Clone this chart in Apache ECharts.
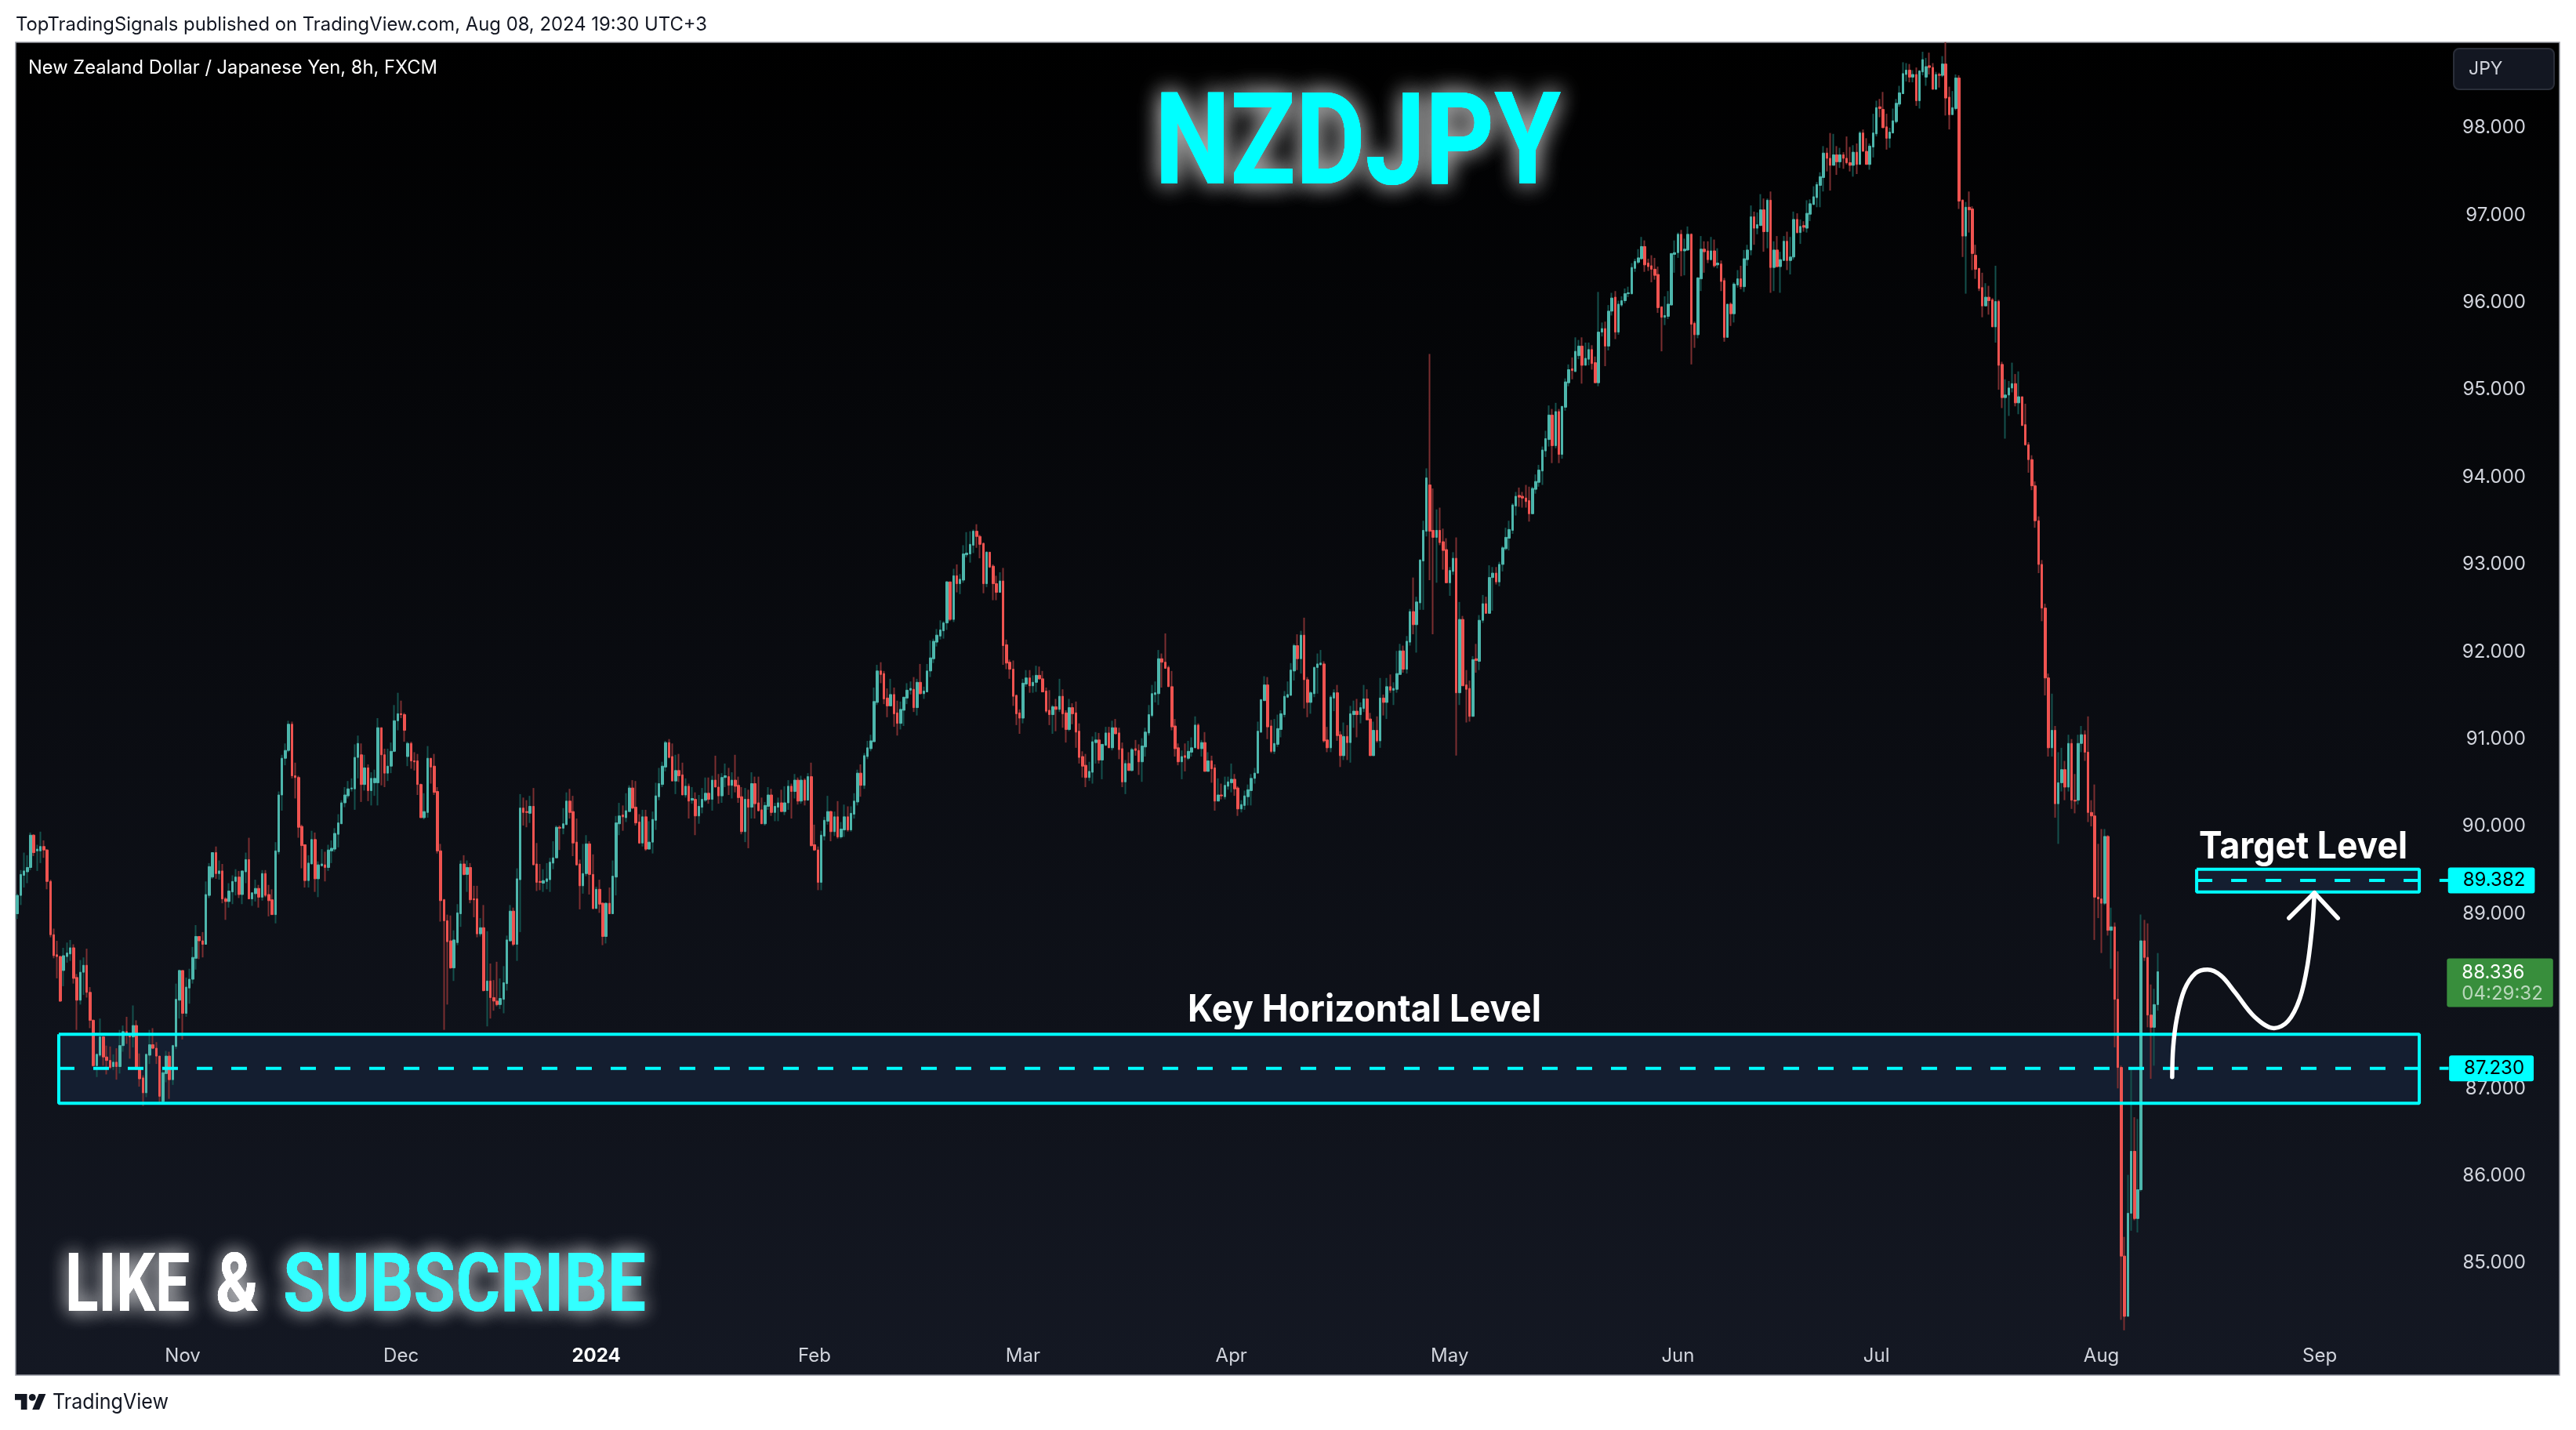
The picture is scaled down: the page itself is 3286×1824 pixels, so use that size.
<!DOCTYPE html>
<html><head><meta charset="utf-8">
<style>html,body{margin:0;padding:0;background:#fff}#c{width:3286px;height:1824px}</style>
<script src="https://cdn.jsdelivr.net/npm/echarts@6/dist/echarts.min.js"></script>
</head><body><div id="c"></div>
<script>
// rows: [open, close, low, high]
const candlesOct = [
[89.0,89.21,88.94,89.23],[89.21,89.45,89.1,89.5],[89.44,89.49,89.3,89.7],[89.48,89.53,89.35,89.67],[89.53,89.9,89.5,89.93],[89.9,89.7,89.66,89.91],[89.72,89.74,89.49,89.79],[89.72,89.77,89.58,89.94],[89.77,89.73,89.64,89.84],[89.73,89.37,89.28,89.74],
[89.37,88.76,88.73,89.39],[88.76,88.52,88.49,88.83],[88.53,88.51,88.26,88.69],[88.51,88.0,87.99,88.52],[88.35,88.52,88.17,88.61],[88.51,88.55,88.44,88.67],[88.54,88.61,88.46,88.7],[88.61,88.26,88.2,88.65],[88.27,88.01,87.67,88.31],[88.01,88.33,87.96,88.47],
[88.33,88.41,88.07,88.5],[88.41,88.1,88.04,88.6],[88.1,87.78,87.69,88.16],[87.78,87.26,87.25,87.79],[87.26,87.39,87.13,87.4],[87.38,87.59,87.36,87.8],[87.59,87.36,87.26,87.6],[87.36,87.32,87.16,87.49],[87.32,87.24,87.22,87.48],[87.25,87.3,87.21,87.39],
[87.3,87.25,87.1,87.46],[87.25,87.49,87.17,87.67],[87.49,87.65,87.42,87.72],[87.65,87.61,87.51,87.82],[87.61,87.59,87.34,87.62],[87.59,87.72,87.47,87.95],[87.72,87.24,87.21,87.78],[87.24,87.11,87.02,87.4],[87.12,86.95,86.8,87.15],[86.95,87.39,86.9,87.4],
[87.38,87.5,87.28,87.67],[87.5,87.46,87.45,87.69],[87.46,87.37,87.28,87.53],[87.37,86.91,86.84,87.37],[86.85,87.18,86.83,87.25],[87.17,87.37,87.07,87.43],[87.37,87.1,86.88,87.42],[87.1,87.49,87.04,87.5],[87.48,88.02,87.45,88.2],[88.01,88.35,87.8,88.36]];
const candlesNov = [
[88.35,87.86,87.56,88.35],[87.86,88.16,87.82,88.27],[88.15,88.25,87.97,88.37],[88.25,88.5,88.2,88.62],[88.49,88.74,88.36,88.87],[88.74,88.69,88.48,88.74],[88.69,88.65,88.5,88.79],[88.65,89.22,88.65,89.37],[89.21,89.54,89.18,89.58],[89.42,89.7,89.4,89.7],
[89.7,89.46,89.4,89.77],[89.46,89.49,89.39,89.61],[89.49,89.17,89.12,89.57],[89.17,89.14,88.93,89.19],[89.14,89.26,89.07,89.35],[89.25,89.37,89.11,89.44],[89.37,89.42,89.21,89.51],[89.42,89.22,89.18,89.49],[89.22,89.49,89.11,89.49],[89.48,89.62,89.35,89.7],
[89.62,89.17,89.17,89.87],[89.17,89.24,89.09,89.24],[89.23,89.29,89.14,89.39],[89.29,89.19,89.07,89.33],[89.19,89.46,89.15,89.5],[89.46,89.21,89.19,89.5],[89.22,89.15,88.97,89.33],[89.16,88.99,88.99,89.28],[88.99,89.72,88.89,89.82],[89.71,90.36,89.68,90.4],
[90.36,90.78,90.18,90.82],[90.78,90.87,90.7,90.95],[90.87,91.17,90.85,91.21],[91.17,90.58,90.55,91.2],[90.58,90.56,90.32,90.73],[90.56,89.99,89.87,90.58],[90.0,89.78,89.52,90.02],[89.79,89.38,89.3,89.79],[89.38,89.58,89.3,89.67],[89.57,89.85,89.57,89.95],
[89.85,89.4,89.25,89.93],[89.4,89.56,89.19,89.6],[89.55,89.57,89.54,89.74],[89.56,89.53,89.37,89.71],[89.53,89.73,89.49,89.79],[89.72,89.75,89.58,89.84],[89.74,89.92,89.71,89.98],[89.91,90.04,89.76,90.14],[90.03,90.27,90.03,90.3],[90.27,90.36,90.22,90.45],
[90.35,90.43,90.32,90.52],[90.43,90.44,90.4,90.55],[90.43,90.79,90.19,90.94],[90.79,90.95,90.55,91.04],[90.82,90.48,90.28,90.95],[90.48,90.67,90.41,90.82],[90.67,90.41,90.29,90.71],[90.41,90.55,90.24,90.62],[90.5,90.55,90.35,90.65],[90.5,91.13,90.24,91.24],
[91.13,90.82,90.47,91.13],[90.82,90.61,90.45,90.89],[90.61,90.69,90.52,90.89],[90.69,90.86,90.61,90.96],[90.86,91.21,90.85,91.39],[91.21,91.29,91.1,91.53]];
const candlesDec = [
[91.29,91.28,91.24,91.44],[91.28,91.1,90.97,91.3],[90.8,90.95,90.69,90.97],[90.95,90.75,90.66,90.97],[90.75,90.74,90.64,90.85],[90.75,90.48,90.36,90.83],[90.48,90.1,90.1,90.49],[90.1,90.17,90.08,90.38],[90.16,90.78,90.1,90.92],[90.78,90.68,90.49,90.78],
[90.69,90.39,90.36,90.83],[90.4,89.72,89.69,90.45],[89.72,89.15,88.91,89.8],[89.16,88.92,87.67,89.17],[88.92,88.68,87.96,88.99],[88.69,88.38,88.37,88.98],[88.38,88.7,88.23,88.81],[88.67,89.01,88.64,89.11],[89.0,89.57,88.85,89.61],[89.57,89.45,89.44,89.67],
[89.45,89.53,89.25,89.61],[89.53,89.16,89.12,89.58],[89.17,89.16,88.96,89.32],[89.17,88.77,88.73,89.32],[88.77,88.84,88.74,88.95],[88.84,88.12,88.11,89.1],[88.12,88.23,87.71,88.8],[88.23,88.04,87.8,88.43],[88.04,88.0,87.89,88.24],[88.0,87.96,87.94,88.45],
[87.96,88.03,87.91,88.26],[88.02,88.21,87.86,88.4],[88.2,88.7,88.12,88.75],[88.69,89.03,88.68,89.1],[89.03,88.65,88.63,89.07],[88.65,89.4,88.46,89.52],[89.39,90.21,88.79,90.37],[90.21,90.16,90.01,90.33],[90.17,90.16,89.99,90.3],[90.15,90.23,90.04,90.35],
[90.23,89.56,89.56,90.44],[89.57,89.36,89.26,89.81],[89.37,89.36,89.27,89.57],[89.35,89.38,89.25,89.51],[89.37,89.4,89.28,89.58],[89.39,89.59,89.25,89.64],[89.58,89.64,89.51,89.83],[89.64,89.99,89.64,90.01],[89.99,89.98,89.73,90.01],[89.98,90.03,89.91,90.21],
[90.02,90.29,90.02,90.39],[90.29,90.16,90.09,90.43],[90.17,89.81,89.66,90.35],[89.82,89.56,89.55,90.09],[89.57,89.32,89.05,89.62],[89.32,89.46,89.23,89.8],[89.46,89.8,89.43,89.9],[89.8,89.45,89.22,89.83],[89.45,89.06,89.05,89.68]];
const candlesJan = [
[89.06,89.28,89.06,89.31],[89.28,89.11,89.01,89.39],[89.12,88.74,88.64,89.13],[88.74,89.12,88.66,89.13],[89.12,89.0,89.0,89.3],[89.0,89.43,89.0,89.61],[89.42,90.04,89.21,90.12],[90.03,90.12,89.9,90.27],[90.13,90.11,89.95,90.24],[90.1,90.18,90.05,90.38],
[90.17,90.44,90.17,90.47],[90.44,90.21,90.2,90.53],[90.22,90.04,90.01,90.52],[90.05,89.81,89.8,90.14],[89.81,90.11,89.77,90.19],[90.11,89.74,89.72,90.19],[89.74,89.82,89.74,90.06],[89.82,90.08,89.69,90.17],[90.07,90.35,89.96,90.5],[90.34,90.49,90.3,90.67],
[90.48,90.69,90.45,90.74],[90.68,90.96,90.63,90.98],[90.96,90.79,90.78,91.0],[90.8,90.52,90.52,90.95],[90.52,90.64,90.37,90.82],[90.64,90.58,90.51,90.83],[90.59,90.36,90.36,90.73],[90.36,90.46,90.33,90.55],[90.46,90.29,90.09,90.49],[90.3,90.32,90.26,90.45],
[90.31,90.12,89.9,90.39],[90.12,90.23,90.03,90.36],[90.22,90.31,90.15,90.44],[90.3,90.38,90.28,90.56],[90.38,90.31,90.26,90.56],[90.31,90.53,90.18,90.58],[90.53,90.45,90.45,90.81],[90.45,90.35,90.26,90.6],[90.35,90.56,90.27,90.61],[90.56,90.58,90.45,90.72],
[90.57,90.47,90.36,90.67],[90.47,90.53,90.32,90.62],[90.53,90.46,90.39,90.82],[90.47,90.33,90.27,90.57],[90.34,89.94,89.91,90.45],[89.94,90.31,89.82,90.44],[90.31,90.22,89.75,90.42],[90.22,90.49,90.09,90.62],[90.49,90.26,90.09,90.57],[90.27,90.18,90.17,90.57],
[90.19,90.03,90.03,90.33],[90.03,90.24,90.01,90.28],[90.23,90.36,90.19,90.45],[90.36,90.16,90.12,90.43],[90.16,90.23,90.06,90.27],[90.22,90.27,90.06,90.33],[90.27,90.17,90.17,90.42],[90.17,90.27,90.13,90.46],[90.27,90.46,90.19,90.53],[90.46,90.4,90.09,90.49],
[90.4,90.53,90.32,90.6],[90.53,90.29,90.25,90.56],[90.29,90.53,90.26,90.58],[90.53,90.3,90.24,90.55],[90.3,90.57,90.3,90.61],[90.57,89.78,89.77,90.73]];
const candlesFeb = [
[89.79,89.73,89.72,90.02],[89.73,89.36,89.27,89.77],[89.36,89.9,89.27,89.95],[89.89,90.07,89.84,90.11],[90.06,90.17,90.02,90.35],[90.17,89.94,89.83,90.18],[89.94,90.11,89.89,90.17],[90.11,89.88,89.86,90.29],[89.88,89.97,89.86,90.05],[89.96,90.11,89.88,90.25],
[90.11,89.96,89.94,90.23],[89.96,90.15,89.94,90.23],[90.14,90.29,90.09,90.38],[90.28,90.61,90.24,90.65],[90.61,90.47,90.34,90.71],[90.47,90.81,90.43,90.84],[90.8,90.9,90.77,90.98],[90.89,90.98,90.86,91.05],[90.97,91.43,90.97,91.59],[91.42,91.78,91.39,91.85],
[91.78,91.74,91.64,91.88],[91.75,91.46,91.4,91.78],[91.47,91.38,91.25,91.58],[91.38,91.51,91.38,91.69],[91.51,91.29,91.14,91.59],[91.3,91.18,91.04,91.44],[91.18,91.34,91.11,91.43],[91.33,91.48,91.15,91.48],[91.47,91.56,91.4,91.64],[91.56,91.58,91.51,91.66],
[91.57,91.36,91.31,91.71],[91.36,91.65,91.27,91.69],[91.65,91.52,91.51,91.86],[91.52,91.55,91.46,91.6],[91.54,91.78,91.54,91.86],[91.78,91.93,91.71,92.13],[91.92,92.12,91.87,92.15],[92.11,92.19,92.06,92.26],[92.18,92.25,92.14,92.36],[92.24,92.33,92.15,92.35],
[92.33,92.8,92.25,92.81],[92.8,92.37,92.35,92.8],[92.37,92.87,92.34,92.95],[92.87,92.78,92.68,93.0],[92.78,92.83,92.66,92.89],[92.82,93.12,92.79,93.22],[93.11,93.13,93.08,93.37],[93.12,93.23,93.02,93.38],[93.22,93.38,93.13,93.4],[93.38,93.32,93.19,93.46],
[93.32,93.23,93.07,93.34],[93.24,92.78,92.67,93.25],[92.78,93.14,92.74,93.15],[93.14,92.97,92.96,93.14],[92.98,92.78,92.59,93.0],[92.78,92.68,92.59,92.87],[92.68,92.81,92.68,92.91],[92.81,92.07,91.85,92.96],[92.08,91.87,91.8,92.14],[91.88,91.8,91.69,91.91],
[91.8,91.49,91.38,91.9],[91.5,91.29,91.16,91.51],[91.3,91.24,91.06,91.34]];
const candlesMar = [
[91.24,91.64,91.18,91.69],[91.63,91.7,91.6,91.79],[91.7,91.61,91.53,91.79],[91.61,91.65,91.53,91.73],[91.65,91.73,91.54,91.84],[91.73,91.69,91.68,91.83],[91.69,91.54,91.54,91.78],[91.55,91.32,91.3,91.59],[91.33,91.28,91.16,91.56],[91.28,91.37,91.06,91.39],
[91.37,91.34,91.09,91.46],[91.34,91.49,91.31,91.69],[91.49,91.29,91.13,91.57],[91.3,91.11,90.96,91.33],[91.11,91.36,91.09,91.46],[91.36,91.29,91.17,91.41],[91.3,91.08,90.9,91.43],[91.09,90.79,90.72,91.18],[90.8,90.69,90.56,90.86],[90.7,90.56,90.45,90.83],
[90.56,90.63,90.52,90.74],[90.62,90.97,90.49,91.03],[90.96,90.99,90.72,91.08],[90.99,90.76,90.72,91.07],[90.76,90.94,90.54,90.94],[90.93,91.07,90.92,91.14],[91.07,90.9,90.9,91.14],[90.9,91.13,90.87,91.21],[91.13,91.06,91.06,91.23],[91.07,90.88,90.77,91.13],
[90.89,90.51,90.45,90.96],[90.51,90.72,90.37,90.76],[90.72,90.64,90.64,90.85],[90.64,90.88,90.63,90.9],[90.89,90.87,90.81,90.99],[90.87,90.74,90.59,90.94],[90.74,90.92,90.51,91.01],[90.91,91.08,90.8,91.13],[91.07,91.28,91.04,91.39],[91.27,91.52,91.25,91.62],
[91.51,91.53,91.42,91.66],[91.52,91.92,91.39,92.02],[91.92,91.88,91.59,91.98],[91.88,91.81,91.81,92.21],[91.82,91.6,91.6,91.84],[91.6,91.14,91.1,91.78],[91.15,90.89,90.8,91.23],[90.9,90.74,90.7,90.95],[90.74,90.8,90.54,90.87],[90.81,90.79,90.63,90.95],
[90.78,90.86,90.76,90.98],[90.85,90.9,90.8,91.02],[90.9,91.16,90.9,91.26],[91.16,90.89,90.88,91.18],[90.89,90.96,90.8,90.99],[90.96,90.63,90.63,91.08],[90.63,90.75,90.63,90.85],[90.75,90.66,90.5,90.81],[90.67,90.29,90.18,90.71],[90.29,90.36,90.29,90.55],
[90.36,90.35,90.31,90.49],[90.34,90.47,90.31,90.57],[90.46,90.51,90.42,90.57]];
const candlesApr = [
[90.5,90.54,90.39,90.72],[90.54,90.43,90.35,90.6],[90.44,90.2,90.12,90.46],[90.2,90.25,90.16,90.3],[90.24,90.35,90.19,90.41],[90.34,90.42,90.24,90.48],[90.41,90.55,90.24,90.6],[90.55,90.61,90.49,90.67],[90.61,91.09,90.61,91.2],[91.08,91.45,91.07,91.46],
[91.44,91.62,91.44,91.72],[91.62,91.14,91.0,91.71],[91.15,90.86,90.84,91.22],[90.86,90.95,90.83,91.23],[90.94,91.12,90.91,91.28],[91.11,91.29,91.02,91.33],[91.28,91.49,91.25,91.55],[91.48,91.51,91.47,91.66],[91.5,91.79,91.5,91.87],[91.78,92.07,91.67,92.09],
[92.07,91.92,91.79,92.2],[91.92,92.19,91.75,92.24],[92.19,91.68,91.35,92.39],[91.68,91.42,91.25,91.71],[91.42,91.53,91.29,91.55],[91.52,91.82,91.48,91.83],[91.82,91.86,91.52,91.98],[91.85,91.87,91.85,92.02],[91.86,90.98,90.96,91.89],[90.99,90.9,90.85,91.14],
[90.9,91.48,90.85,91.5],[91.47,91.53,91.32,91.57],[91.53,91.04,90.98,91.62],[91.05,90.81,90.68,91.09],[90.81,91.03,90.76,91.19],[91.03,90.96,90.76,91.16],[90.96,91.29,90.73,91.38],[91.28,91.32,91.13,91.44],[91.32,91.28,91.02,91.46],[91.28,91.36,91.18,91.42],
[91.35,91.46,91.31,91.62],[91.46,91.22,91.22,91.57],[91.23,90.81,90.81,91.3],[90.81,91.1,90.81,91.2],[91.1,90.98,90.96,91.26],[90.98,91.47,90.9,91.7],[91.47,91.42,91.27,91.51],[91.42,91.6,91.23,91.7],[91.6,91.56,91.53,91.74],[91.56,91.58,91.39,91.65],
[91.57,91.75,91.53,92.01],[91.74,92.01,91.74,92.09],[92.01,91.8,91.76,92.07],[91.8,92.12,91.75,92.18],[92.11,92.46,92.07,92.49],[92.46,92.31,92.2,92.85],[92.31,92.57,91.99,92.63],[92.56,93.05,92.48,93.06],[93.04,93.39,92.48,93.5],[93.38,93.99,93.32,94.1],
[93.91,93.38,92.82,95.41],[93.39,93.31,92.2,93.87],[93.31,93.39,92.79,93.63],[93.39,93.25,93.22,93.65],[93.26,93.16,92.94,93.41],[93.17,92.79,92.79,93.3]];
const candlesMay = [
[92.79,92.93,92.64,92.97],[92.92,93.07,92.88,93.14],[93.07,91.53,90.81,93.31],[91.53,92.37,91.39,92.57],[92.37,91.61,91.61,92.41],[91.62,91.57,91.19,91.79],[91.58,91.26,91.2,91.67],[91.26,91.91,91.26,91.95],[91.92,91.9,91.76,92.09],[91.89,92.36,91.79,92.42],
[92.36,92.55,92.33,92.65],[92.55,92.44,92.44,92.63],[92.44,92.85,92.44,92.99],[92.85,92.9,92.47,92.97],[92.9,92.8,92.77,92.97],[92.8,93.0,92.75,93.03],[93.0,93.19,92.92,93.21],[93.18,93.31,93.16,93.42],[93.3,93.4,93.16,93.5],[93.39,93.68,93.35,93.7],
[93.67,93.78,93.56,93.83],[93.79,93.77,93.66,93.88],[93.78,93.76,93.65,93.83],[93.76,93.72,93.65,93.91],[93.73,93.58,93.49,93.89],[93.58,93.87,93.58,93.89],[93.86,93.95,93.81,94.03],[93.94,94.08,93.89,94.14],[94.07,94.31,93.91,94.35],[94.3,94.44,94.23,94.53],
[94.43,94.71,94.35,94.82],[94.71,94.36,94.16,94.78],[94.36,94.75,94.33,94.85],[94.75,94.26,94.16,94.78],[94.26,94.81,94.21,94.81],[94.8,95.09,94.76,95.13],[95.08,95.23,95.04,95.29],[95.24,95.22,95.12,95.37],[95.21,95.44,95.2,95.6],[95.39,95.5,95.35,95.57],
[95.5,95.28,95.07,95.6],[95.28,95.36,95.28,95.54],[95.35,95.46,95.28,95.54],[95.46,95.3,95.23,95.51],[95.31,95.08,95.08,95.38],[95.08,95.66,95.04,96.12],[95.66,95.7,95.61,95.77],[95.7,95.5,95.27,95.78],[95.5,95.9,95.45,95.97],[95.9,96.05,95.85,96.11],
[96.06,95.66,95.58,96.13],[95.66,95.98,95.63,96.02],[95.97,96.02,95.95,96.07],[96.02,96.1,95.99,96.16],[96.1,96.11,96.06,96.18],[96.1,96.4,96.09,96.45],[96.39,96.47,96.35,96.5],[96.46,96.51,96.44,96.61],[96.5,96.64,96.49,96.75],[96.64,96.43,96.35,96.71],
[96.45,96.41,96.36,96.5],[96.42,96.38,96.23,96.54],[96.38,96.31,96.26,96.51],[96.32,95.94,95.88,96.41],[95.95,95.83,95.44,95.95],[95.83,95.85,95.74,96.07],[95.84,95.98,95.81,96.13],[95.97,96.56,95.97,96.56]];
const candlesJun = [
[96.55,96.57,96.34,96.71],[96.57,96.78,96.51,96.8],[96.78,96.59,96.3,96.83],[96.59,96.61,96.31,96.73],[96.6,96.78,96.59,96.87],[96.78,95.75,95.29,96.79],[95.76,95.63,95.48,95.78],[95.63,96.28,95.59,96.29],[96.27,96.61,96.13,96.76],[96.61,96.58,96.34,96.7],
[96.59,96.49,96.45,96.7],[96.49,96.59,96.48,96.75],[96.59,96.42,96.4,96.72],[96.43,96.45,96.39,96.62],[96.44,96.24,96.13,96.48],[96.25,95.6,95.55,96.28],[95.6,95.98,95.6,95.98],[95.98,95.87,95.73,96.0],[95.87,96.21,95.77,96.23],[96.2,96.27,96.17,96.37],
[96.27,96.18,96.15,96.42],[96.18,96.5,96.12,96.6],[96.49,96.6,96.42,96.66],[96.6,96.98,96.54,97.11],[96.98,96.85,96.66,97.04],[96.85,96.89,96.78,97.03],[96.88,97.06,96.88,97.24],[97.06,96.81,96.58,97.19],[96.81,97.17,96.62,97.19],[97.17,96.4,96.11,97.27],
[96.4,96.6,96.13,96.7],[96.6,96.41,96.4,96.76],[96.41,96.49,96.11,96.58],[96.48,96.7,96.48,96.76],[96.7,96.48,96.37,96.81],[96.48,96.52,96.32,96.75],[96.52,96.95,96.49,97.04],[96.95,96.8,96.79,97.02],[96.8,96.87,96.67,96.95],[96.88,96.86,96.81,96.93],
[96.85,97.02,96.8,97.17],[97.01,97.13,96.93,97.18],[97.12,97.21,97.12,97.33],[97.2,97.35,97.09,97.38],[97.34,97.44,97.09,97.49],[97.43,97.71,97.27,97.79],[97.71,97.65,97.5,97.77],[97.65,97.57,97.28,97.94],[97.57,97.69,97.57,97.93],[97.69,97.61,97.46,97.79],
[97.61,97.69,97.54,97.77],[97.69,97.65,97.53,97.72],[97.65,97.6,97.58,97.9],[97.6,97.57,97.5,97.78],[97.57,97.72,97.44,97.8],[97.72,97.58,97.47,97.82],[97.58,97.94,97.58,97.96],[97.94,97.73,97.73,97.98],[97.73,97.58,97.58,97.88],[97.58,97.79,97.52,97.82]];
const candlesJul = [
[97.78,97.94,97.66,98.16],[97.93,98.23,97.9,98.31],[98.24,98.22,98.12,98.33],[98.21,98.0,98.0,98.41],[98.01,97.88,97.75,98.16],[97.88,97.95,97.77,98.0],[97.94,98.08,97.94,98.22],[98.07,98.28,98.05,98.33],[98.27,98.4,98.24,98.48],[98.39,98.62,98.39,98.75],
[98.61,98.66,98.53,98.74],[98.66,98.58,98.52,98.73],[98.58,98.61,98.52,98.66],[98.61,98.31,98.25,98.69],[98.31,98.65,98.22,98.66],[98.64,98.78,98.6,98.87],[98.58,98.7,98.48,98.8],[98.71,98.69,98.61,98.86],[98.69,98.44,98.44,98.74],[98.44,98.61,98.44,98.64],
[98.61,98.6,98.46,98.63],[98.6,98.73,98.58,98.82],[98.73,98.34,98.14,98.98],[98.35,98.15,97.98,98.47],[98.15,98.23,98.15,98.42],[98.22,98.57,98.2,98.61],[98.57,97.16,97.07,98.6],[97.17,96.76,96.52,97.18],[96.76,97.09,96.1,97.15],[97.09,97.06,96.8,97.27],
[97.07,96.56,96.37,97.1],[96.54,96.38,96.27,96.66],[96.39,96.16,96.13,96.39],[96.17,95.96,95.83,96.34],[95.96,96.06,95.96,96.22],[96.06,96.02,95.86,96.19],[96.03,95.72,95.72,96.05],[95.72,96.01,95.54,96.42],[96.01,95.28,95.0,96.03],[95.29,94.91,94.79,95.32],
[94.91,94.94,94.44,95.12],[94.94,95.02,94.7,95.1],[95.02,95.07,94.97,95.31],[95.07,94.85,94.81,95.18],[94.85,94.92,94.72,95.21],[94.92,94.59,94.59,94.92],[94.6,94.37,94.36,94.84],[94.37,94.2,94.05,94.4],[94.2,93.9,93.85,94.25],[93.9,93.5,93.42,93.95],
[93.5,93.0,92.9,93.55],[93.0,92.5,92.35,93.05],[92.5,91.7,91.5,92.55],[91.7,90.9,90.8,91.75],[90.9,91.1,90.8,91.52],[91.1,90.26,90.1,91.15],[90.26,90.5,89.8,90.85],[90.5,90.65,90.4,90.9],[90.65,90.45,90.3,90.75],[90.45,90.95,90.4,91.05],
[90.95,90.3,90.2,91.0],[90.3,90.29,90.15,90.6],[90.3,90.95,90.25,91.05],[90.95,91.05,90.85,91.15],[91.05,90.85,90.75,91.1],[90.85,90.16,90.05,91.26],[90.16,90.12,90.0,90.3],[90.12,89.19,88.7,90.48]];
const candlesAug = [
[89.19,89.17,88.95,89.8],[89.17,89.12,88.55,89.97],[89.12,89.885,89.1,89.97],[89.885,88.81,88.75,89.9],[88.81,88.85,88.37,89.07],[88.85,88.02,87.47,88.9],[88.02,87.24,87.0,88.57],[87.24,85.08,84.35,87.26],[85.08,84.39,84.23,85.3],[84.39,85.57,84.39,86.01],
[85.57,86.28,85.37,87.22],[86.28,85.51,85.49,86.67],[85.51,85.84,85.35,86.65],[85.84,88.69,85.82,88.99],[88.69,88.5,88.46,88.93],[88.5,87.84,87.7,88.89],[87.84,87.7,87.11,88.19],[87.7,87.96,87.26,88.14],[87.96,88.336,87.89,88.55]];

const monthNames = ['Nov','Dec','2024','Feb','Mar','Apr','May','Jun','Jul','Aug','Sep'];
const monthBars  = [50,116,175,241,304,367,433,502,562,630,696];
const barSlots = 769;
const yTicks = [85,86,87,88,89,90,91,92,93,94,95,96,97,98];
const keyLevel = 87.23, keyTop = 87.62, keyBottom = 86.83, keyFrom = 12.53, zoneTo = 726.1;
const targetLevel = 89.382, targetTop = 89.51, targetBottom = 89.25, targetFrom = 658.8;
const lastPrice = 88.336, countdown = '04:29:32';
const arrowCurve = [[651.4,87.13],[651.7,87.47],[652.8,87.8],[655.1,88.13],[658.5,88.32],[662.1,88.36],[666.2,88.29],[670.4,88.1],[676.3,87.82],[682.2,87.69],[686.4,87.77],[690,88.03],[692.3,88.41],[693.8,88.88],[694.4,89.24]];
const arrowHead = [[686.7,88.95],[694.4,89.24],[701.5,88.95]];

const rows = [].concat(candlesOct,candlesNov,candlesDec,candlesJan,candlesFeb,candlesMar,candlesApr,candlesMay,candlesJun,candlesJul,candlesAug);
const categories = Array.from({length:barSlots},()=> '');
monthBars.forEach((b,i)=>{categories[b]=monthNames[i]});
const bodies = rows.map(r=>[r[0],r[1],Math.min(r[0],r[1]),Math.max(r[0],r[1])]);

const UI='Inter, "Noto Sans", sans-serif', CY='#00ffff';
const mc=document.createElement('canvas').getContext('2d');
function fit(text,font,w){mc.font=font;return w/mc.measureText(text).width}
function T(text,x,y,w,font,fill,extra){
  const st=Object.assign({text,font,fill,textAlign:'left',textVerticalAlign:extra&&extra.mid?'middle':'bottom'},extra&&extra.style||{});
  return {type:'text',x,y,scaleX:w?fit(text,font,w):1,z:100,zlevel:1,silent:true,style:st};
}
function glow(text,x,y,w,font,fill,blur){
  const g={textShadowBlur:blur,textShadowColor:'rgba(255,255,255,0.55)'};
  return [T(text,x,y,w,font,fill,{style:g}),T(text,x,y,w,font,fill,{style:g}),T(text,x,y,w,font,fill)];
}
const bigFont='700 163px Roboto', subFont='700 103px Roboto', lblFont='700 48px Inter';
const logoPart=(type,shape)=>({type,shape,x:19,y:1773.5,scaleX:1.11,scaleY:1.11,z:100,zlevel:1,silent:true,style:{fill:'#131722'}});
const graphics=[
  T('TopTradingSignals published on TradingView.com, Aug 08, 2024 19:30 UTC+3',20,32,882,'400 24px '+UI,'#131722',{mid:true}),
  T('New Zealand Dollar / Japanese Yen, 8h, FXCM',36,87,522,'400 24px '+UI,'#ffffff',{mid:true}),
  {type:'rect',shape:{x:3130,y:62,width:128,height:52,r:7},z:90,zlevel:1,silent:true,style:{fill:'#131722',stroke:'#2a2e39',lineWidth:2}},
  T('JPY',3149,88,null,'400 23px '+UI,'#d1d4dc',{mid:true}),
  logoPart('polygon',{points:[[14,22],[7,22],[7,11],[0,11],[0,4],[14,4]]}),
  logoPart('polygon',{points:[[28,22],[20,22],[27.5,4],[35.5,4]]}),
  logoPart('circle',{cx:20,cy:8,r:4}),
  T('TradingView',67,1789,148,'400 27px '+UI,'#131722',{mid:true}),
  ...glow('NZDJPY',1473,275,518,bigFont,CY,30),
  ...glow('LIKE',83,1698,159,subFont,'#ffffff',24),
  ...glow('&',275,1698,55,subFont,'#ffffff',24),
  ...glow('SUBSCRIBE',361,1698,463,subFont,'#33ffff',24),
  T('Key Horizontal Level',1515,1289,451,lblFont,'#ffffff',{mid:true}),
  T('Target Level',2805,1081,266,lblFont,'#ffffff',{mid:true})
];
const hline=(name,data,extra)=>Object.assign({type:'line',name,xAxisIndex:1,yAxisIndex:0,data,symbol:'none',silent:true,animation:false,z:6},extra);
const levelTag=(v,x,txt)=>({type:'scatter',xAxisIndex:1,yAxisIndex:0,symbolSize:1,silent:true,z:20,itemStyle:{color:'rgba(0,0,0,0)',opacity:1},data:[[x,v]],
  label:{show:true,opacity:1,position:'inside',formatter:txt,backgroundColor:CY,color:'#000',fontFamily:UI,fontSize:24,padding:[5,12,4,19],borderRadius:3}});
const rectPath=(a,b,t,u)=>[[a,t],[b,t],[b,u],[a,u],[a,t]];

const series=[
 {type:'line',name:'zones',xAxisIndex:1,yAxisIndex:0,data:[],z:1,silent:true,
  markArea:{silent:true,z:1,itemStyle:{color:'#141e30'},label:{show:false},data:[
    [{xAxis:keyFrom,yAxis:keyTop},{xAxis:zoneTo,yAxis:keyBottom}],
    [{xAxis:targetFrom,yAxis:targetTop},{xAxis:zoneTo,yAxis:targetBottom}]]}},
 {type:'candlestick',name:'wicks',data:rows,barWidth:1,large:false,progressive:0,z:2,silent:true,
  itemStyle:{color:'#14504c',color0:'#7a2e30',borderColor:'#14504c',borderColor0:'#7a2e30',borderWidth:2}},
 {type:'candlestick',name:'NZDJPY',data:bodies,barWidth:3,large:false,progressive:0,z:3,silent:true,
  itemStyle:{color:'#4db6ac',color0:'#ef5350',borderColor:'#4db6ac',borderColor0:'#ef5350',borderWidth:1}},
 hline('keyBox',rectPath(keyFrom,zoneTo,keyTop,keyBottom),{lineStyle:{color:CY,width:4}}),
 hline('targetBox',rectPath(targetFrom,zoneTo,targetTop,targetBottom),{lineStyle:{color:CY,width:4}}),
 hline('keyDash',[[keyFrom,keyLevel],[zoneTo,keyLevel]],{lineStyle:{color:CY,width:4,type:[20,24]}}),
 hline('targetDash',[[targetFrom,targetLevel],[zoneTo,targetLevel]],{lineStyle:{color:CY,width:4,type:[20,24]}}),
 hline('keyTick',[[732.2,keyLevel],[735,keyLevel]],{lineStyle:{color:CY,width:4}}),
 hline('targetTick',[[732.2,targetLevel],[735,targetLevel]],{lineStyle:{color:CY,width:4}}),
 hline('arrow',arrowCurve,{smooth:0.35,lineStyle:{color:'#fff',width:5.5,cap:'round',join:'round'},z:8}),
 hline('arrowHead',arrowHead,{lineStyle:{color:'#fff',width:5.5,cap:'round',join:'round'},z:8}),
 levelTag(keyLevel,747.9,keyLevel.toFixed(3)),
 levelTag(targetLevel,747.9,targetLevel.toFixed(3)),
 {type:'scatter',xAxisIndex:1,yAxisIndex:0,symbolSize:1,silent:true,z:19,itemStyle:{color:'rgba(0,0,0,0)',opacity:1},data:[[750.5,lastPrice]],
  label:{show:true,opacity:1,position:'inside',offset:[0,14],formatter:'{a|'+lastPrice.toFixed(3)+'}\n{b|'+countdown+'}',backgroundColor:'#388e3c',padding:[5,13,3,19],borderRadius:3,align:'center',
   rich:{a:{color:'#fff',fontFamily:UI,fontSize:24,lineHeight:27,align:'left'},b:{color:'rgba(255,255,255,0.65)',fontFamily:UI,fontSize:24,lineHeight:27,align:'left'}}}}
];

const chart=echarts.init(document.getElementById('c'),null,{renderer:'canvas',width:3286,height:1824});
chart.setOption({
 animation:false,backgroundColor:'#ffffff',
 grid:{left:20,right:21,top:54,bottom:70,show:true,borderColor:'#9598a1',borderWidth:1.5,
  backgroundColor:{type:'linear',x:0,y:0,x2:0,y2:1,colorStops:[{offset:0,color:'#000000'},{offset:1,color:'#141823'}]}},
 xAxis:[
  {type:'category',data:categories,boundaryGap:true,axisLine:{show:false},axisTick:{show:false},splitLine:{show:false},
   axisLabel:{inside:true,margin:12,interval:0,color:'#d1d4dc',fontFamily:UI,fontSize:24,hideOverlap:false,
     formatter:v=>v==='2024'?'{y|2024}':v,rich:{y:{fontWeight:700,color:'#ffffff',fontFamily:UI,fontSize:24}}}},
  {type:'value',min:-0.5,max:barSlots-0.5,show:false,splitLine:{show:false}}],
 yAxis:[{type:'value',position:'right',min:83.717,max:98.978,scale:true,axisLine:{show:false},axisTick:{show:false},splitLine:{show:false},
   axisLabel:{inside:true,margin:43,color:'#d1d4dc',fontFamily:UI,fontSize:24,customValues:yTicks,formatter:v=>v.toFixed(3)}}],
 series,graphic:graphics
});
</script></body></html>
